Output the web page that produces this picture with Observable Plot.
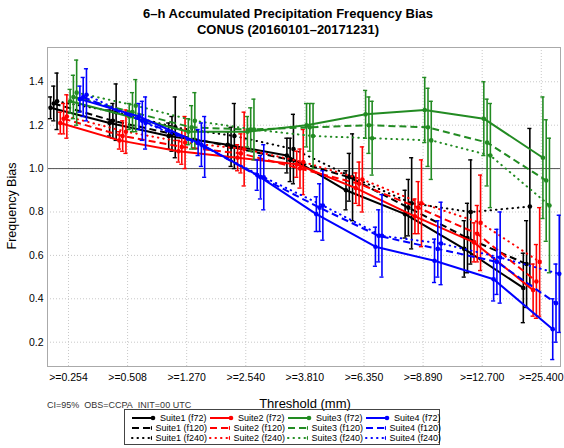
<!DOCTYPE html>
<html><head><meta charset="utf-8">
<script src="https://cdn.jsdelivr.net/npm/d3@7"></script>
<script src="https://cdn.jsdelivr.net/npm/@observablehq/plot@0.6"></script>
<style>
body{margin:0;background:#fff;font-family:"Liberation Sans",Arial,Helvetica,sans-serif;}
#wrap{position:relative;width:564px;height:448px;overflow:hidden;}
#title{position:absolute;left:0;top:6px;width:576px;text-align:center;font-weight:bold;font-size:13px;line-height:16px;color:#000;}
#chart{position:absolute;left:0;top:40px;}
#ylab{position:absolute;left:12px;top:206px;transform:translate(-50%,-50%) rotate(-90deg);font-size:12.5px;white-space:nowrap;}
#xlab{position:absolute;left:305px;top:396px;transform:translateX(-50%);font-size:13px;white-space:nowrap;}
#cap{position:absolute;left:47px;top:400px;font-size:9px;color:#333;white-space:nowrap;}
#legend{position:absolute;left:124px;top:409px;width:316px;height:36px;border:1px solid #444;display:grid;grid-template-columns:repeat(4,78px);grid-auto-rows:10px;padding:3px 0 0 4px;box-sizing:border-box;font-size:9px;line-height:10px;}
#legend .it{display:flex;align-items:center;white-space:nowrap;}
#legend svg{margin-right:3px;}
</style></head>
<body>
<div id="wrap">
  <div id="title">6–h Accumulated Precipitation Frequency Bias<br>CONUS (20160101–20171231)</div>
  <div id="chart"></div>
  <div id="ylab">Frequency Bias</div>
  <div id="xlab">Threshold (mm)</div>
  <div id="cap">CI=95%&nbsp; OBS=CCPA&nbsp; INIT=00 UTC</div>
  <div id="legend"></div>
</div>
<script>
const thresholds = [">=0.254", ">=0.508", ">=1.270", ">=2.540", ">=3.810", ">=6.350", ">=8.890", ">=12.700", ">=25.400"];
const suites = ["Suite1", "Suite2", "Suite3", "Suite4"];
const leads = ["f72", "f120", "f240"];
const suiteColors = ["#000000", "#ff0000", "#228b22", "#0000ff"];
const leadDashes = [null, "7,4", "0.5,5"];
const yTicks = [0.2, 0.4, 0.6, 0.8, 1.0, 1.2, 1.4];

// frequency bias values (per suite, per lead)
const suite1_f72  = [1.28, 1.21, 1.15, 1.11, 1.06, 0.90, 0.79, 0.63, 0.45];
const suite1_f120 = [1.30, 1.22, 1.16, 1.10, 1.04, 0.96, 0.82, 0.68, 0.56];
const suite1_f240 = [1.31, 1.26, 1.19, 1.15, 1.09, 0.96, 0.84, 0.80, 0.825];
const suite2_f72  = [1.21, 1.13, 1.08, 1.05, 1.02, 0.91, 0.78, 0.66, 0.44];
const suite2_f120 = [1.23, 1.15, 1.10, 1.07, 1.00, 0.93, 0.82, 0.70, 0.48];
const suite2_f240 = [1.24, 1.17, 1.12, 1.09, 1.03, 0.95, 0.84, 0.75, 0.57];
const suite3_f72  = [1.31, 1.24, 1.17, 1.17, 1.20, 1.25, 1.27, 1.23, 1.05];
const suite3_f120 = [1.33, 1.26, 1.19, 1.18, 1.19, 1.20, 1.19, 1.12, 0.945];
const suite3_f240 = [1.35, 1.29, 1.22, 1.18, 1.15, 1.14, 1.13, 1.06, 0.83];
const suite4_f72  = [1.32, 1.24, 1.12, 0.97, 0.79, 0.64, 0.575, 0.49, 0.26];
const suite4_f120 = [1.33, 1.22, 1.11, 0.96, 0.82, 0.69, 0.63, 0.57, 0.38];
const suite4_f240 = [1.34, 1.21, 1.10, 0.96, 0.83, 0.69, 0.655, 0.59, 0.515];

// 95% confidence half-widths
const suite1_f72_ci  = [0.05, 0.06, 0.06, 0.06, 0.08, 0.09, 0.11, 0.13, 0.16];
const suite1_f120_ci = [0.08, 0.08, 0.08, 0.09, 0.10, 0.11, 0.13, 0.16, 0.20];
const suite1_f240_ci = [0.13, 0.13, 0.14, 0.15, 0.16, 0.20, 0.21, 0.24, 0.36];
const suite2_f72_ci  = [0.05, 0.04, 0.05, 0.06, 0.06, 0.07, 0.08, 0.09, 0.12];
const suite2_f120_ci = [0.07, 0.07, 0.08, 0.09, 0.09, 0.10, 0.12, 0.13, 0.17];
const suite2_f240_ci = [0.10, 0.10, 0.12, 0.17, 0.15, 0.15, 0.20, 0.22, 0.25];
const suite3_f72_ci  = [0.055, 0.06, 0.06, 0.07, 0.10, 0.11, 0.15, 0.17, 0.28];
const suite3_f120_ci = [0.10, 0.09, 0.10, 0.10, 0.11, 0.13, 0.18, 0.20, 0.28];
const suite3_f240_ci = [0.15, 0.12, 0.13, 0.14, 0.15, 0.17, 0.18, 0.24, 0.31];
const suite4_f72_ci  = [0.06, 0.06, 0.06, 0.07, 0.08, 0.09, 0.10, 0.10, 0.14];
const suite4_f120_ci = [0.09, 0.09, 0.10, 0.10, 0.11, 0.12, 0.13, 0.15, 0.18];
const suite4_f240_ci = [0.12, 0.12, 0.14, 0.15, 0.16, 0.19, 0.19, 0.21, 0.27];

const values = [
  [suite1_f72, suite1_f120, suite1_f240],
  [suite2_f72, suite2_f120, suite2_f240],
  [suite3_f72, suite3_f120, suite3_f240],
  [suite4_f72, suite4_f120, suite4_f240]
];
const cis = [
  [suite1_f72_ci, suite1_f120_ci, suite1_f240_ci],
  [suite2_f72_ci, suite2_f120_ci, suite2_f240_ci],
  [suite3_f72_ci, suite3_f120_ci, suite3_f240_ci],
  [suite4_f72_ci, suite4_f120_ci, suite4_f240_ci]
];

const step = 0.0553;   // horizontal dodge between series within a threshold
const cap = 0.035;
const rows = [];
suites.forEach((s, si) => leads.forEach((l, li) => {
  values[si][li].forEach((v, k) => {
    const idx = si * 3 + li;
    const ci = cis[si][li][k];
    rows.push({suite: s, lead: l, si, li, k, x: k + (idx - 5.5) * step, v, lo: v - ci, hi: v + ci});
  });
}));

const marks = [
  Plot.gridX(d3.range(thresholds.length), {stroke: "#c8c8c8", strokeOpacity: 1, strokeDasharray: "1,2"}),
  Plot.gridY(yTicks, {stroke: "#c8c8c8", strokeOpacity: 1, strokeDasharray: "1,2"}),
  Plot.ruleY([1], {stroke: "#555", strokeWidth: 1}),
  Plot.frame({stroke: "#aaa"})
];
suites.forEach((s, si) => {
  leads.forEach((l, li) => {
    const data = rows.filter(d => d.si === si && d.li === li);
    const c = suiteColors[si];
    marks.push(Plot.line(data, {x: "x", y: "v", stroke: c, strokeWidth: 2,
      strokeDasharray: leadDashes[li] || undefined, strokeLinecap: li === 2 ? "round" : "butt"}));
    marks.push(Plot.ruleX(data, {x: "x", y1: "lo", y2: "hi", stroke: c, strokeWidth: 1.6}));
    marks.push(Plot.ruleY(data, {y: "lo", x1: d => d.x - cap, x2: d => d.x + cap, stroke: c, strokeWidth: 1.4}));
    marks.push(Plot.ruleY(data, {y: "hi", x1: d => d.x - cap, x2: d => d.x + cap, stroke: c, strokeWidth: 1.4}));
    marks.push(Plot.dot(data, {x: "x", y: "v", fill: c, r: 2.3}));
  });
});

const chart = Plot.plot({
  width: 564,
  height: 372,
  marginTop: 7,
  marginBottom: 46,
  marginLeft: 47,
  marginRight: 4,
  style: {fontFamily: "'Liberation Sans', Arial, sans-serif", fontSize: "10.5px", color: "#000", background: "#fff"},
  x: {type: "linear", domain: [-0.355, 8.325], ticks: d3.range(thresholds.length), tickFormat: i => thresholds[i], tickSize: 0, tickPadding: 7, label: null},
  y: {domain: [0.088, 1.558], ticks: yTicks, tickFormat: d3.format(".1f"), tickSize: 0, tickPadding: 4, label: null},
  marks
});
document.getElementById("chart").appendChild(chart);

// legend
const legend = document.getElementById("legend");
leads.forEach((l, li) => {
  suites.forEach((s, si) => {
    const c = suiteColors[si];
    const it = document.createElement("div");
    it.className = "it";
    const dash = leadDashes[li] ? `stroke-dasharray="${leadDashes[li]}"` : "";
    const lc = li === 2 ? "round" : "butt";
    it.innerHTML = `<svg width="28" height="10"><line x1="3" y1="5" x2="24" y2="5" stroke="${c}" stroke-width="2" ${dash} stroke-linecap="${lc}"/><circle cx="24" cy="5" r="2.3" fill="${c}"/></svg><span>${s} (${l})</span>`;
    legend.appendChild(it);
  });
});
</script>
</body></html>
